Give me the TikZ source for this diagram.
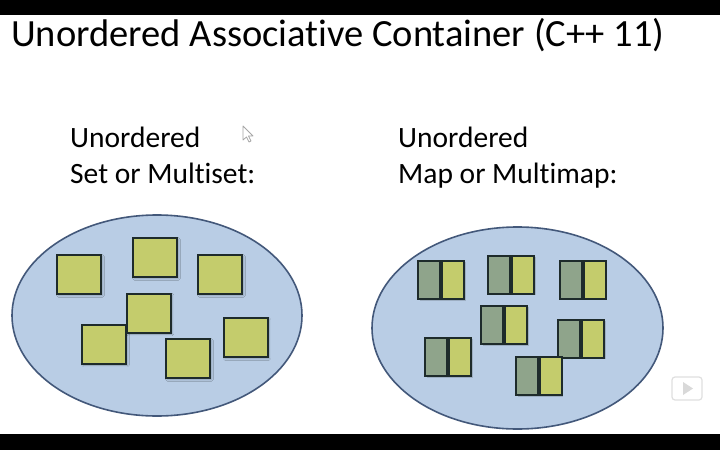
\documentclass[tikz,border=0pt]{standalone}
\usepackage{fontspec}
\setmainfont{Carlito}[RawFeature={-liga;-clig;-dlig;-rlig;-calt}]
\usetikzlibrary{shapes.geometric,shadows.blur}
\definecolor{setfill}{HTML}{B9CDE5}
\definecolor{setline}{HTML}{43587A}
\definecolor{elemfill}{HTML}{C4CC6C}
\definecolor{keyfill}{HTML}{8FA48B}
\definecolor{elemline}{HTML}{1E2B2B}
\tikzset{
  container/.style={ellipse, draw=setline, fill=setfill, line width=1.6pt, inner sep=0pt},
  elem/.style={rectangle, draw=elemline, fill=elemfill, line width=2pt, inner sep=0pt,
    minimum width=44pt, minimum height=39pt,
    blur shadow={shadow xshift=1.5pt, shadow yshift=-1.5pt, shadow blur steps=4, shadow opacity=25}},
  keyhalf/.style={rectangle, draw=elemline, fill=keyfill, line width=2pt, inner sep=0pt,
    minimum width=22pt, minimum height=38pt, anchor=east},
  valhalf/.style={rectangle, draw=elemline, fill=elemfill, line width=2pt, inner sep=0pt,
    minimum width=22pt, minimum height=38pt, anchor=west},
  pairshadow/.style={fill=black, opacity=0.15},
  heading/.style={anchor=base west, inner sep=0pt, font=\fontsize{38.5}{42}\selectfont},
  label/.style={anchor=base west, inner sep=0pt, align=left, font=\fontsize{29.5}{36}\selectfont},
}
\newcommand{\kvpair}[3]{%
  \fill[pairshadow] (#2-21,#3-18) rectangle (#2+24.5,#3+20.5);
  \node[keyhalf] (#1k) at (#2,#3) {};
  \node[valhalf] (#1v) at (#2,#3) {};
}
\begin{document}
\begin{tikzpicture}[x=1pt,y=-1pt]
\useasboundingbox (0,0) rectangle (720,450);
\fill[white] (0,0) rectangle (720,450);
\fill[black] (0,0) rectangle (720,15);
\fill[black] (0,434) rectangle (720,450);

\node[heading] (title) at (11,46) {Unordered Associative Container (C++ 11)};

\node[label] (setlabel) at (70,183) {Unordered\\Set or Multiset:};
\node[label] (maplabel) at (398,183) {Unordered\\Map or Multimap:};

% left container
\node[container, minimum width=290pt, minimum height=201pt] (setc) at (157,315.5) {};
\node[elem] (s1) at (79,274.5) {};
\node[elem] (s2) at (155,257.5) {};
\node[elem] (s3) at (220,274.5) {};
\node[elem] (s5) at (104,344) {};
\node[elem] (s4) at (148.5,313) {};
\node[elem] (s6) at (188,358.5) {};
\node[elem] (s7) at (245.5,337.5) {};

% right container
\node[container, minimum width=291pt, minimum height=202pt] (mapc) at (517.5,328) {};
\kvpair{pa}{441}{280}
\kvpair{pb}{511}{274.5}
\kvpair{pc}{582.5}{279.5}
\kvpair{pd}{504}{325}
\kvpair{pe}{448}{357}
\kvpair{pf}{581}{338.5}
\kvpair{pg}{538.5}{376}

% screen artifacts: cursor and play icon
\draw[gray!70, line width=0.8pt, fill=white, line join=round]
  (243,126) -- (243,140) -- (246.5,137) -- (249,142) -- (251,141) -- (248.5,136) -- (253,136) -- cycle;
\node[draw=gray!25, line width=1.2pt, rounded corners=3pt, minimum width=30pt, minimum height=23pt, inner sep=0pt] (play) at (687,388.5) {};
\fill[gray!30] (683,382) -- (683,395) -- (693,388.5) -- cycle;
\end{tikzpicture}
\end{document}
